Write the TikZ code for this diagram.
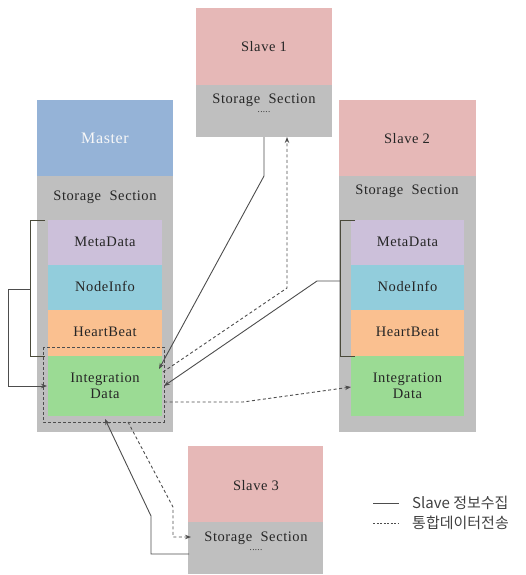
\documentclass[tikz,border=0pt]{standalone}
\usepackage{fontspec}
\setmainfont{Liberation Serif}[LetterSpace=4]
\newfontfamily\kofont{Noto Sans CJK KR}
\usetikzlibrary{arrows.meta}
\definecolor{mblue}{HTML}{95B3D7}
\definecolor{spink}{HTML}{E6B8B7}
\definecolor{sgray}{HTML}{BFBFBF}
\definecolor{cmeta}{HTML}{CCC0DA}
\definecolor{cnode}{HTML}{92CDDC}
\definecolor{cheart}{HTML}{FAC090}
\definecolor{cinteg}{HTML}{9BDB94}
\definecolor{lnc}{HTML}{4D4D4D}
\definecolor{brc}{HTML}{4A4A3A}
\begin{document}
\begin{tikzpicture}[x=1pt,y=-1pt,
  blk/.style={anchor=north west,inner sep=0pt,outer sep=0pt},
  txt/.style={font=\fontsize{14.5}{16}\selectfont,text=black!85,align=center},
  solidc/.style={draw=lnc,line width=0.9pt,-{Stealth[length=6pt,width=4.5pt]}},
  dashc/.style={draw=lnc,line width=0.9pt,dashed,dash pattern=on 3pt off 2.5pt,-{Stealth[length=6pt,width=4.5pt]}},
  brk/.style={draw=brc,line width=0.7pt}]
\useasboundingbox (0,0) rectangle (525,575);
% Master
\node[blk,fill=mblue,minimum width=136pt,minimum height=76pt] (mtop) at (37,100) {};
\node[blk,fill=sgray,minimum width=136pt,minimum height=256pt] (mstore) at (37,176) {};
\node[txt,text=white!97!black,font=\fontsize{16}{18}\selectfont] (mname) at (105,138) {Master};
\node[txt] (mss) at (105,197) {Storage\ \ Section};
\node[blk,fill=cmeta,minimum width=114pt,minimum height=45pt] (mmeta) at (48,220) {};
\node[blk,fill=cnode,minimum width=114pt,minimum height=45pt] (mnode) at (48,265) {};
\node[blk,fill=cheart,minimum width=114pt,minimum height=46pt] (mheart) at (48,310) {};
\node[blk,fill=cinteg,minimum width=114pt,minimum height=60pt] (minteg) at (48,356) {};
\node[txt] at ([yshift=1pt]mmeta.center) {MetaData};
\node[txt] at ([yshift=1pt]mnode.center) {NodeInfo};
\node[txt] at ([yshift=1pt]mheart.center) {HeartBeat};
\node[txt] at (minteg.center) {Integration\\[0pt]Data};
\draw[lnc,line width=0.8pt,dashed,dash pattern=on 3pt off 2pt] (43,347) rectangle (164,422);
% Master bracket
\draw[brk] (45,220) -- (30,220) -- (30,356) -- (45,356);
\coordinate (mbm) at (30,289);
\coordinate (ml1) at (8,289);
\coordinate (ml2) at (8,386);
\coordinate (mie) at (47,386);
\draw[solidc] (mbm) -- (ml1) -- (ml2) -- (mie);
% Slave 1
\node[blk,fill=spink,minimum width=136pt,minimum height=77pt] (s1top) at (196,8) {};
\node[blk,fill=sgray,minimum width=136pt,minimum height=52pt] (s1store) at (196,85) {};
\node[txt] (s1name) at (264,47) {Slave 1};
\node[txt] (s1ss) at (264,100) {Storage\ \ Section};
\node[txt,font=\fontsize{9}{10}\selectfont] (s1dots) at (264,112) {.....};
% Slave 2
\node[blk,fill=spink,minimum width=137pt,minimum height=76pt] (s2top) at (339,100) {};
\node[blk,fill=sgray,minimum width=137pt,minimum height=256pt] (s2store) at (339,176) {};
\node[txt] (s2name) at (407,139) {Slave 2};
\node[txt] (s2ss) at (407,191) {Storage\ \ Section};
\node[blk,fill=cmeta,minimum width=113pt,minimum height=45pt] (smeta) at (351,220) {};
\node[blk,fill=cnode,minimum width=113pt,minimum height=45pt] (snode) at (351,265) {};
\node[blk,fill=cheart,minimum width=113pt,minimum height=46pt] (sheart) at (351,310) {};
\node[blk,fill=cinteg,minimum width=113pt,minimum height=60pt] (sinteg) at (351,356) {};
\node[txt] at ([yshift=1pt]smeta.center) {MetaData};
\node[txt] at ([yshift=1pt]snode.center) {NodeInfo};
\node[txt] at ([yshift=1pt]sheart.center) {HeartBeat};
\node[txt] at (sinteg.center) {Integration\\[0pt]Data};
\draw[brk] (355,220) -- (340,220) -- (340,356) -- (355,356);
% Slave 3
\node[blk,fill=spink,minimum width=135pt,minimum height=76pt] (s3top) at (188,446) {};
\node[blk,fill=sgray,minimum width=135pt,minimum height=52pt] (s3store) at (188,522) {};
\node[txt] (s3name) at (256,486) {Slave 3};
\node[txt] (s3ss) at (256,538) {Storage\ \ Section};
\node[txt,font=\fontsize{9}{10}\selectfont] (s3dots) at (256,550) {.....};
% Slave1 -> Master (solid)
\coordinate (a1) at (264,137);
\coordinate (a2) at (264,176);
\coordinate (a3) at (159,369);
\draw[solidc] (a1) -- (a2) -- (a3);
% Master -> Slave1 (dashed)
\coordinate (b1) at (163,372);
\coordinate (b2) at (287,288);
\coordinate (b3) at (287,137);
\draw[dashc] (b1) -- (b2) -- (b3);
% Slave2 -> Master (solid)
\coordinate (c1) at (340,281);
\coordinate (c2) at (317,281);
\coordinate (c3) at (164,386);
\draw[solidc] (c1) -- (c2) -- (c3);
% Master -> Slave2 (dashed)
\coordinate (d1) at (164,402);
\coordinate (d2) at (243,402);
\coordinate (d3) at (351,387);
\draw[dashc] (d1) -- (d2) -- (d3);
% Slave3 -> Master (solid)
\coordinate (e1) at (189,554);
\coordinate (e2) at (151,554);
\coordinate (e3) at (151,516);
\coordinate (e4) at (105,419);
\draw[solidc] (e1) -- (e2) -- (e3) -- (e4);
% Master -> Slave3 (dashed)
\coordinate (f1) at (128,422);
\coordinate (f2) at (173,507);
\coordinate (f3) at (173,537);
\coordinate (f4) at (191,537);
\draw[dashc] (f1) -- (f2) -- (f3) -- (f4);
% Legend
\coordinate (l1a) at (373,503);
\coordinate (l1b) at (399,503);
\coordinate (l2a) at (373,523);
\coordinate (l2b) at (399,523);
\draw[lnc,line width=0.9pt] (l1a) -- (l1b);
\draw[lnc,line width=0.9pt,dashed,dash pattern=on 2pt off 1.5pt] (l2a) -- (l2b);
\node[anchor=west,inner sep=0pt,font=\kofont\fontsize{15}{17}\selectfont,text=black!75] (lg1) at (412,503) {Slave 정보수집};
\node[anchor=west,inner sep=0pt,font=\kofont\fontsize{15}{17}\selectfont,text=black!75] (lg2) at (412,523) {통합데이터전송};
\end{tikzpicture}
\end{document}
